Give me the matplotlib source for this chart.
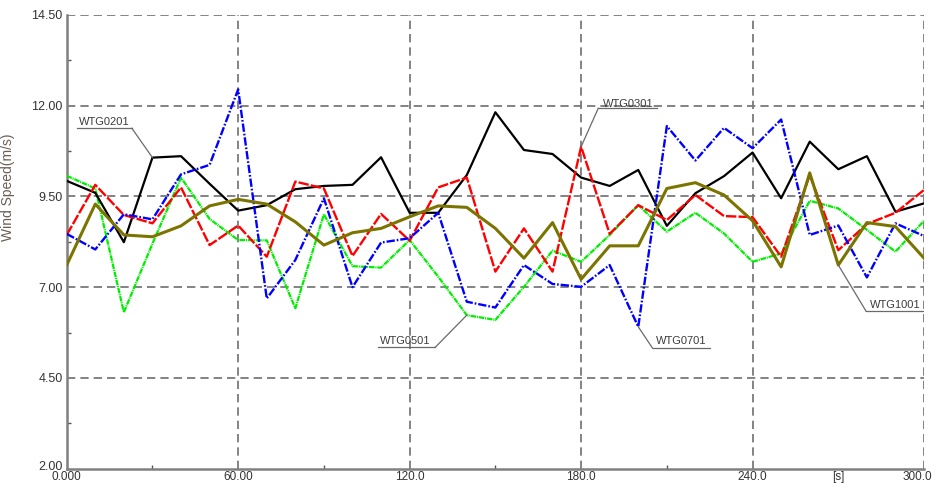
import matplotlib
matplotlib.use("Agg")
import matplotlib.pyplot as plt
import matplotlib.transforms as mtransforms
import numpy as np

plt.rcParams['font.family'] = ['Liberation Sans', 'DejaVu Sans']
plt.rcParams['lines.scale_dashes'] = False

time_s = list(range(0, 301, 10))

wtg0201 = [9.93, 9.60, 8.24, 10.57, 10.61, 9.85, 9.11, 9.26, 9.70, 9.79, 9.82,
           10.58, 9.05, 9.05, 10.09, 11.82, 10.78, 10.67, 10.02, 9.79, 10.23,
           8.69, 9.59, 10.06, 10.71, 9.45, 11.01, 10.25, 10.61, 9.08, 9.31]
wtg0301 = [8.44, 9.82, 8.99, 8.76, 9.75, 8.16, 8.70, 7.84, 9.91, 9.72, 7.86,
           9.02, 8.28, 9.75, 10.02, 7.43, 8.62, 7.43, 10.87, 8.47, 9.26,
           8.85, 9.54, 8.96, 8.93, 7.84, 10.09, 8.02, 8.74, 9.05, 9.68]
wtg0501 = [10.07, 9.72, 6.31, 8.20, 10.02, 8.88, 8.30, 8.29, 6.42, 9.01, 7.58,
           7.54, 8.30, 7.29, 6.23, 6.10, 7.01, 8.01, 7.70, 8.44, 9.26,
           8.53, 9.05, 8.48, 7.70, 7.93, 9.38, 9.17, 8.58, 7.98, 8.83]
wtg0701 = [8.47, 8.04, 9.01, 8.87, 10.11, 10.37, 12.45, 6.69, 7.75, 9.45, 7.00,
           8.23, 8.35, 9.05, 6.60, 6.44, 7.61, 7.09, 7.01, 7.61, 5.91,
           11.44, 10.49, 11.39, 10.83, 11.62, 8.44, 8.70, 7.27, 8.76, 8.41]
wtg1001 = [7.61, 9.29, 8.44, 8.39, 8.69, 9.24, 9.42, 9.29, 8.80, 8.16, 8.50,
           8.62, 8.94, 9.24, 9.20, 8.62, 7.80, 8.78, 7.22, 8.14, 8.14,
           9.72, 9.88, 9.54, 8.83, 7.56, 10.15, 7.61, 8.78, 8.67, 7.80]

x_ticks = [0, 60, 120, 180, 240, 270, 300]
x_tick_labels = ["0.000", "60.00", "120.0", "180.0", "240.0", "[s]", "300.0"]
y_ticks = [2.0, 4.5, 7.0, 9.5, 12.0, 14.5]
y_tick_labels = ["2.00", "4.50", "7.00", "9.50", "12.00", "14.50"]

fig = plt.figure(figsize=(9.33, 4.83), dpi=100)
ax = fig.add_axes([0.0715, 0.0296, 0.9189, 0.9394])

ax.set_xlim(0, 300)
ax.set_ylim(2.0, 14.5)

grid_col = '#7a7a7a'
for gx in [60, 120, 180, 240, 300]:
    ax.axvline(gx, color=grid_col, lw=1.3, linestyle=(0, (6, 3.6)), zorder=1)
for gy in [4.5, 7.0, 9.5, 12.0, 14.5]:
    ax.axhline(gy, color=grid_col, lw=1.3, linestyle=(0, (6, 3.6)), zorder=1)

ax.plot(time_s, wtg0501, color='#00ee00', lw=1.6,
        linestyle=(0, (4, 0.6, 0.8, 0.6)), zorder=3)
ax.plot(time_s, wtg0201, color='#000000', lw=1.6, zorder=3)
ax.plot(time_s, wtg0301, color='#ff0000', lw=1.7,
        linestyle=(0, (7.5, 1.5)), zorder=4)
ax.plot(time_s, wtg0701, color='#0000ff', lw=1.7,
        linestyle=(0, (6, 1.4, 1.2, 1.4)), zorder=4)
ax.plot(time_s, wtg1001, color='#7b7400', lw=2.2, zorder=5)

# annotations (label centre, underline span, target index)
ann = [
    ("WTG0201", wtg0201, 3, (13.2, 11.56), (3.6, 22.8, 11.38), 'right'),
    ("WTG0301", wtg0301, 18, (196.6, 12.05), (186.0, 206.5, 11.93), 'left'),
    ("WTG0501", wtg0501, 14, (118.4, 5.52), (108.9, 128.9, 5.34), 'right'),
    ("WTG0701", wtg0701, 20, (215.1, 5.52), (205.0, 225.1, 5.32), 'left'),
    ("WTG1001", wtg1001, 27, (289.8, 6.50), (279.7, 300.0, 6.34), 'left'),
]
for name, series, idx, (tx, ty), (u0, u1, uy), side in ann:
    ax.text(tx, ty, name, ha='center', va='center', fontsize=8,
            color='#3c3c3c', zorder=6)
    ax.plot([u0, u1], [uy, uy], color='#6a6a6a', lw=0.9, zorder=6)
    sx = u1 if side == 'right' else u0
    ax.plot([sx, time_s[idx]], [uy, series[idx]], color='#6a6a6a', lw=0.9,
            zorder=6)

for s in ['top', 'right']:
    ax.spines[s].set_visible(False)
for s in ['left', 'bottom']:
    ax.spines[s].set_color('#808080')
    ax.spines[s].set_linewidth(1.8)

ax.set_xticks(x_ticks)
ax.set_xticklabels(x_tick_labels)
ax.set_yticks(y_ticks)
ax.set_yticklabels(y_tick_labels)
ax.set_xticks([30, 90, 150, 210], minor=True)
ax.set_yticks([3.25, 5.75, 8.25, 10.75, 13.25], minor=True)
ax.tick_params(axis='y', which='major', direction='in', length=0,
               labelsize=9, labelcolor='#333333', pad=3)
ax.tick_params(axis='x', which='major', direction='in', length=0,
               labelsize=8.5, labelcolor='#333333', pad=1.5)
ax.tick_params(axis='both', which='minor', direction='in', length=3,
               color='#555555', width=1)

# keep the last x label inside the canvas
last = ax.get_xticklabels()[-1]
last.set_horizontalalignment('right')
last.set_transform(last.get_transform() +
                   mtransforms.ScaledTranslation(8 / 100, 0, fig.dpi_scale_trans))
# lift the lowest y label a little so it clears the first x label
first_y = ax.get_yticklabels()[0]
first_y.set_transform(first_y.get_transform() +
                      mtransforms.ScaledTranslation(0, 3 / 100, fig.dpi_scale_trans))

ax.set_ylabel("Wind Speed(m/s)", fontsize=10, color='#6b5d55')
ax.yaxis.set_label_coords(-0.06, 0.62)

fig.savefig("out.png", dpi=100)
